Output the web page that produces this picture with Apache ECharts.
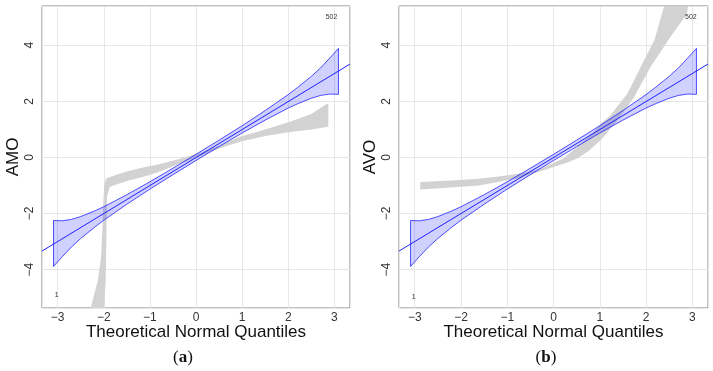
<!DOCTYPE html>
<html lang="en">

<head>
    <meta charset="UTF-8">
    <title>qq plots</title>
    <style>
        html,
        body,
        #chart {
            margin: 0;
            padding: 0;
            overflow: hidden;
            width: 100%;
            height: 100%;
            background: #fff;
        }
    </style>
</head>

<body>
    <div id="chart"></div>
    <script src="https://cdn.jsdelivr.net/npm/echarts@6/dist/echarts.min.js"></script>
    <script>
        // reference line (same fit in both panels)
        var lineX = [-3.34, 3.34];
        var lineY = [-3.34, 3.33];

        // confidence envelope
        var bandX = [-3.09, -2.9, -2.7, -2.5, -2.2, -2.0, -1.5, -1.0, -0.5, 0, 0.5, 1.0, 1.5, 2.0, 2.2, 2.5, 2.7, 2.9, 3.09];
        var bandUpper = [-2.25, -2.26, -2.21, -2.11, -1.91, -1.76, -1.33, -0.87, -0.385, 0.11, 0.615, 1.13, 1.67, 2.24, 2.49, 2.89, 3.19, 3.54, 3.89];
        var bandLower = [-3.89, -3.54, -3.19, -2.89, -2.49, -2.24, -1.67, -1.13, -0.615, -0.11, 0.385, 0.87, 1.33, 1.76, 1.91, 2.11, 2.21, 2.26, 2.25];

        // grey cloud of simulated quantiles, panel (a) AMO: outline going up the left/top then back along the bottom
        var amoTopX = [-2.32, -2.13, -2.06, -2.03, -2.01, -1.99, -1.95, -1.7, -1.5, -1.2, -0.85, -0.4, 0.09, 0.5, 0.95, 1.5, 2.04, 2.5, 2.85, 2.87];
        var amoTopY = [-5.6, -4.4, -3.6, -2.6, -1.6, -1.0, -0.75, -0.6, -0.5, -0.38, -0.26, -0.07, 0.17, 0.42, 0.74, 1.0, 1.27, 1.55, 1.92, 1.88];
        var amoBotX = [2.87, 2.5, 2.04, 1.5, 0.95, 0.5, 0.09, -0.4, -0.85, -1.2, -1.5, -1.87, -1.93, -1.94, -1.95, -1.96, -2.0];
        var amoBotY = [1.09, 1.0, 0.91, 0.76, 0.56, 0.32, 0.04, -0.25, -0.55, -0.72, -0.84, -1.05, -1.4, -2.5, -3.5, -4.4, -5.6];

        // panel (b) AVO
        var avoTopX = [-2.88, -2.3, -1.62, -1.2, -0.75, -0.3, 0.2, 0.51, 0.87, 1.02, 1.23, 1.6, 1.89, 2.18, 2.36, 2.42, 2.95];
        var avoTopY = [-0.88, -0.83, -0.76, -0.68, -0.58, -0.42, -0.05, 0.37, 0.9, 1.2, 1.5, 2.28, 3.24, 4.18, 5.2, 5.6, 5.6];
        var avoBotX = [2.92, 2.89, 2.53, 2.10, 1.74, 1.38, 1.02, 0.75, 0.51, 0.3, 0.1, -0.3, -0.75, -1.2, -1.62, -2.3, -2.88];
        var avoBotY = [5.6, 5.13, 4.30, 3.23, 2.15, 1.32, 0.61, 0.22, -0.04, -0.18, -0.29, -0.5, -0.73, -0.88, -1.0, -1.08, -1.14];

        // point labels
        var idNames = ['1', '502'];
        var amoIdX = [-3.02, 2.94];
        var amoIdY = [-4.92, 5.0];
        var avoIdX = [-3.02, 2.97];
        var avoIdY = [-4.98, 5.0];

        var panelNames = ['AMO', 'AVO'];
        var captions = ['a', 'b'];

        function zip(xs, ys) {
            var out = [];
            for (var i = 0; i < xs.length; i++) out.push([xs[i], ys[i]]);
            return out;
        }

        function polySeries(idx, pts, fill, stroke, z) {
            return {
                type: 'custom',
                xAxisIndex: idx,
                yAxisIndex: idx,
                clip: true,
                silent: true,
                z: z,
                data: pts,
                renderItem: function (params, api) {
                    if (params.dataIndex !== 0) return;
                    var points = pts.map(function (p) { return api.coord(p); });
                    return {
                        type: 'polygon',
                        shape: { points: points },
                        style: { fill: fill, stroke: stroke, lineWidth: stroke ? 0.9 : 0 }
                    };
                }
            };
        }

        function labelSeries(idx, xs, ys) {
            var pts = zip(xs, ys);
            return {
                type: 'custom',
                xAxisIndex: idx,
                yAxisIndex: idx,
                silent: true,
                z: 5,
                data: pts,
                renderItem: function (params, api) {
                    var c = api.coord([api.value(0), api.value(1)]);
                    return {
                        type: 'text',
                        x: c[0],
                        y: c[1],
                        style: {
                            text: idNames[params.dataIndex],
                            fill: '#333',
                            font: '7px "Liberation Sans"',
                            align: 'center',
                            verticalAlign: 'middle'
                        }
                    };
                }
            };
        }

        var minus = function (v) {
            return String(v).replace('-', '\u2212');
        };

        var grids = [
            { left: 42, top: 6, width: 308, height: 302 },
            { left: 399, top: 6, width: 309, height: 302 }
        ];

        var xAxes = [], yAxes = [];
        for (var g = 0; g < 2; g++) {
            grids[g].show = true;
            grids[g].borderColor = '#808080';
            grids[g].borderWidth = 1;
            xAxes.push({
                type: 'value',
                gridIndex: g,
                min: -3.34,
                max: 3.34,
                splitNumber: 6,
                axisLine: { show: false },
                axisTick: { show: false },
                axisLabel: {
                    fontSize: 12, color: '#333', margin: 4,
                    fontFamily: 'Liberation Sans',
                    showMinLabel: false, showMaxLabel: false,
                    formatter: minus
                },
                splitLine: { lineStyle: { color: '#e6e6e6', width: 1 } },
                name: 'Theoretical Normal Quantiles',
                nameLocation: 'middle',
                nameGap: 16,
                nameMoveOverlap: false,
                nameTextStyle: { fontSize: 17, color: '#111', fontFamily: 'Liberation Sans' }
            });
            yAxes.push({
                type: 'value',
                gridIndex: g,
                min: -5.37,
                max: 5.4,
                splitNumber: 5,
                axisLine: { show: false },
                axisTick: { show: false },
                axisLabel: {
                    fontSize: 12, color: '#333', margin: 6, rotate: 90,
                    fontFamily: 'Liberation Sans',
                    showMinLabel: false, showMaxLabel: false,
                    formatter: minus
                },
                splitLine: { lineStyle: { color: '#e6e6e6', width: 1 } },
                name: panelNames[g],
                nameLocation: 'middle',
                nameGap: 20,
                nameMoveOverlap: false,
                nameTextStyle: { fontSize: 17, color: '#111', fontFamily: 'Liberation Sans' }
            });
        }

        var bandPoly = zip(bandX, bandUpper).concat(zip(bandX, bandLower).reverse());
        var amoPoly = zip(amoTopX, amoTopY).concat(zip(amoBotX, amoBotY));
        var avoPoly = zip(avoTopX, avoTopY).concat(zip(avoBotX, avoBotY));

        var series = [
            polySeries(0, amoPoly, '#d2d2d2', null, 1),
            polySeries(1, avoPoly, '#d2d2d2', null, 1),
            polySeries(0, bandPoly, 'rgba(0,0,255,0.18)', 'rgba(40,40,255,0.9)', 2),
            polySeries(1, bandPoly, 'rgba(0,0,255,0.18)', 'rgba(40,40,255,0.9)', 2),
            labelSeries(0, amoIdX, amoIdY),
            labelSeries(1, avoIdX, avoIdY)
        ];
        for (var k = 0; k < 2; k++) {
            series.push({
                type: 'line',
                xAxisIndex: k,
                yAxisIndex: k,
                z: 3,
                symbol: 'none',
                silent: true,
                clip: true,
                lineStyle: { color: '#2020ff', width: 1 },
                data: zip(lineX, lineY)
            });
        }

        var chart = echarts.init(document.getElementById('chart'));
        chart.setOption({
            animation: false,
            backgroundColor: '#fff',
            grid: grids,
            xAxis: xAxes,
            yAxis: yAxes,
            series: series,
            graphic: captions.map(function (c, i) {
                return {
                    type: 'text',
                    x: i === 0 ? 183 : 546,
                    y: 358,
                    style: {
                        text: '(' + '{b|' + c + '})',
                        rich: { b: { fontWeight: 'bold', fontSize: 17, fontFamily: 'Liberation Serif', fill: '#111' } },
                        font: '17px "Liberation Serif"',
                        fill: '#111',
                        align: 'center',
                        verticalAlign: 'middle'
                    }
                };
            })
        });
    </script>
</body>

</html>
